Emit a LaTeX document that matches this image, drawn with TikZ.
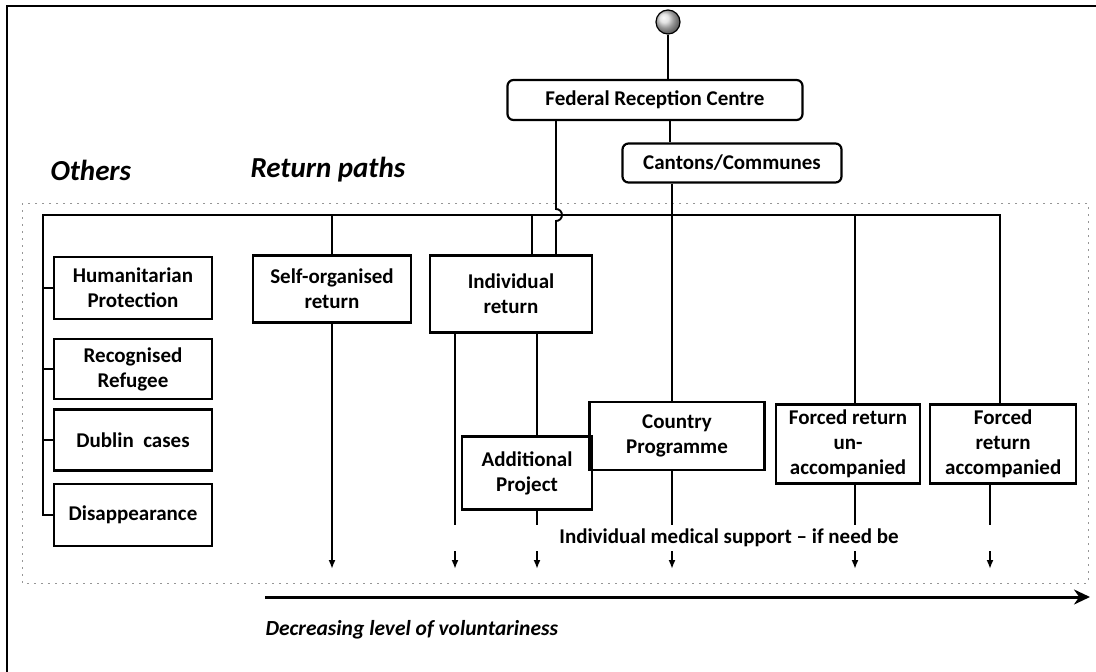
\documentclass[tikz,border=0pt]{standalone}
\usepackage{fontspec}
\setmainfont{Carlito}
\usetikzlibrary{positioning,arrows.meta}
\definecolor{scangrey}{RGB}{150,150,150}

\begin{document}
\begin{tikzpicture}[x=1pt,y=-1pt,
        pathbox/.style={draw=black, line width=2.2pt, align=center, inner sep=2pt, font=\fontsize{21}{25}\selectfont\bfseries},
        roundbox/.style={pathbox, rounded corners=6pt},
        heading/.style={anchor=west, font=\fontsize{29}{32}\selectfont\bfseries\itshape},
        link/.style={line width=1.9pt},
        drop/.style={link, -{Latex[length=9pt,width=7pt]}}]
        \useasboundingbox (0,0) rectangle (1096,672);
        \draw[line width=2pt] (7,672) -- (7,6) -- (1096,6);
        \draw[scangrey, line width=0.8pt, dash pattern=on 2pt off 5pt] (22,203) rectangle (1088,583);
        % top of the chart
        \node[circle, draw, line width=1.2pt, shading=ball, ball color=scangrey!35, minimum size=24pt] (start) at (668,22) {};
        \node[roundbox, minimum width=295pt, minimum height=40pt] (frc) at (655,100) {Federal Reception Centre};
        \node[roundbox, minimum width=219pt, minimum height=39pt] (can) at (732,163) {Cantons/Communes};
        \node[heading] (others) at (47,170) {Others};
        \node[heading] (paths) at (247,170) {Return paths};
        % others
        \node[pathbox, minimum width=158pt, minimum height=62pt] (hum) at (133,288) {Humanitarian\\Protection};
        \node[pathbox, minimum width=158pt, minimum height=60pt] (ref) [below=18pt of hum] {Recognised\\Refugee};
        \node[pathbox, minimum width=158pt, minimum height=61pt] (dub) [below=8pt of ref] {Dublin~ cases};
        \node[pathbox, minimum width=158pt, minimum height=62pt] (dis) [below=11pt of dub] {Disappearance};
        % return paths
        \node[pathbox, minimum width=158pt, minimum height=67pt] (self) at (332,289) {Self-organised\\return};
        \node[pathbox, minimum width=162pt, minimum height=77pt] (ind) at (511,294) {Individual\\return};
        \node[pathbox, minimum width=130pt, minimum height=73pt] (addp) at (527,473) {Additional\\Project};
        \node[pathbox, minimum width=175pt, minimum height=68pt] (cp) at (677,436) {Country\\Programme};
        \node[pathbox, minimum width=144pt, minimum height=79pt] (fun) at (848,444) {Forced return\\un-\\accompanied};
        \node[pathbox, minimum width=146pt, minimum height=79pt] (facc) [right=8pt of fun] {Forced\\return\\accompanied};
        \coordinate (barL) at (43,215);
        \coordinate (barR) at (1000,215);
        \coordinate (hop) at (556,215);
        \coordinate (cline) at (672,215);
        \coordinate (indin) at (532,215);
        \coordinate (funin) at (855,215);
        \coordinate (indl) at (455,215);
        \coordinate (indr) at (537,215);
        \coordinate (faccout) at (990,215);
        \coordinate (ground) at (0,569);
        \draw[link] (start.south) -- (start.south |- frc.north);
        \draw[link] ([xshift=15pt]frc.south) -- ([xshift=15pt]frc.south |- can.north);
        \draw[link] (dis.west) -| (barL) -- (barR) -- (barR |- facc.north);
        \foreach \n in {hum,ref,dub}
            \draw[link] (\n.west) -- (\n.west -| barL);
        \draw[link] (self.north |- barL) -- (self.north);
        \draw[link] (indin) -- (indin |- ind.north);
        \draw[link] (frc.south -| hop) -- ([yshift=6pt]hop) arc[start angle=90, end angle=-90, radius=6pt] -- (hop |- ind.north);
        \draw[link] (can.south -| cline) -- (cp.north -| cline);
        \draw[link] (funin) -- (funin |- fun.north);
        \draw[link] (ind.south -| indr) -- (addp.north -| indr);
        % arrows down to the scale
        \draw[drop] (self.south) -- (self.south |- ground);
        \draw[drop] (ind.south -| indl) -- (indl |- ground);
        \draw[drop] (addp.south -| indr) -- (indr |- ground);
        \draw[drop] (cp.south -| cline) -- (cline |- ground);
        \draw[drop] (fun.south -| funin) -- (funin |- ground);
        \draw[drop] (facc.south -| faccout) -- (faccout |- ground);
        \node[pathbox, draw=none, fill=white, minimum width=575pt, minimum height=26pt, inner sep=0pt] (med) at (729,538) {Individual medical support -- if need be};
        % voluntariness scale
        \coordinate (axL) at (265,597);
        \coordinate (axR) at (1090,597);
        \draw[line width=3pt, -{Stealth[length=16pt,width=15pt]}] (axL) -- (axR);
        \node[anchor=west, font=\fontsize{21.5}{24}\selectfont\bfseries\itshape] (scale) at (262,630) {Decreasing level of voluntariness};
\end{tikzpicture}
\end{document}
